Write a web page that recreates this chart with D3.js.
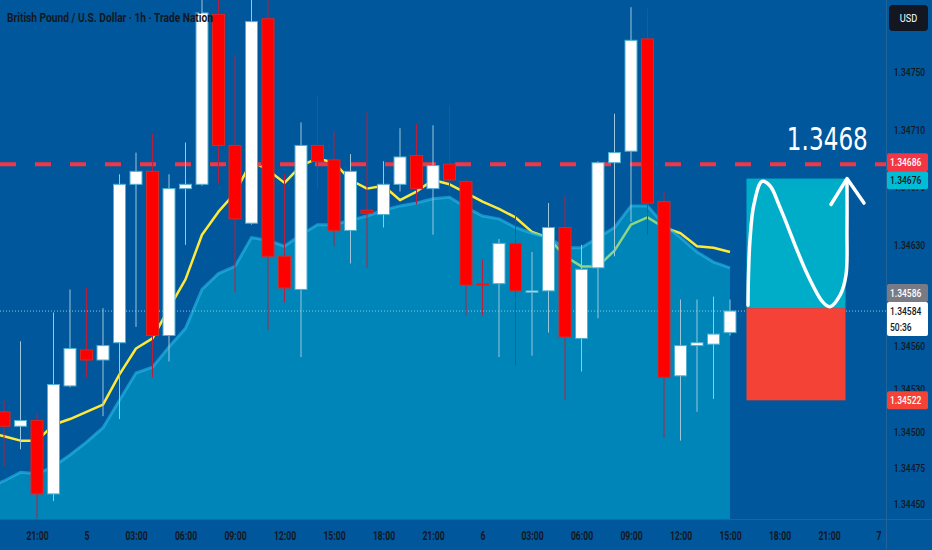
<!DOCTYPE html>
<html>
<head>
<meta charset="utf-8">
<script src="https://cdn.jsdelivr.net/npm/d3@7/dist/d3.min.js"></script>
<style>
html, body { margin:0; padding:0; background:#01579b; }
svg { display:block; }
</style>
</head>
<body>
<svg id="chart" width="932" height="550"></svg>
<script>
// GBP/USD 1h candles, first one is 19:00 on the 4th
var opens  = [1.34514,1.34504,1.34508,1.34457,1.34532,1.34557,1.34550,1.34562,1.34672,1.34681,1.34567,1.34669,1.34672,1.34790,1.34699,1.34645,1.34787,1.34622,1.34599,1.34699,1.34689,1.34640,1.34654,1.34651,1.34672,1.34692,1.34669,1.34686,1.34674,1.34603,1.34603,1.34631,1.34598,1.34598,1.34642,1.34565,1.34614,1.34687,1.34695,1.34773,1.34660,1.34539,1.34560,1.34561,1.34569];
var highs  = [1.34522,1.34563,1.34513,1.34583,1.34599,1.34600,1.34586,1.34679,1.34694,1.34707,1.34679,1.34701,1.34810,1.34814,1.34762,1.34807,1.34817,1.34679,1.34715,1.34734,1.34709,1.34693,1.34722,1.34688,1.34711,1.34714,1.34713,1.34727,1.34676,1.34620,1.34634,1.34654,1.34625,1.34659,1.34664,1.34630,1.34688,1.34721,1.34795,1.34794,1.34667,1.34592,1.34592,1.34594,1.34592];
var lows   = [1.34476,1.34488,1.34440,1.34452,1.34531,1.34538,1.34511,1.34509,1.34573,1.34538,1.34549,1.34630,1.34671,1.34673,1.34597,1.34644,1.34571,1.34590,1.34552,1.34669,1.34629,1.34617,1.34614,1.34642,1.34667,1.34658,1.34637,1.34666,1.34581,1.34581,1.34552,1.34546,1.34553,1.34569,1.34522,1.34542,1.34579,1.34622,1.34646,1.34637,1.34496,1.34494,1.34514,1.34523,1.34567];
var closes = [1.34504,1.34508,1.34457,1.34533,1.34558,1.34550,1.34560,1.34672,1.34681,1.34567,1.34669,1.34672,1.34791,1.34699,1.34648,1.34785,1.34622,1.34600,1.34699,1.34688,1.34640,1.34681,1.34652,1.34672,1.34691,1.34669,1.34685,1.34675,1.34602,1.34602,1.34631,1.34598,1.34598,1.34642,1.34566,1.34613,1.34687,1.34694,1.34772,1.34659,1.34538,1.34560,1.34562,1.34568,1.34584];

// moving averages, first value belongs to the candle just off the left edge (index -1)
var maFast = [1.34500,1.34497,1.34494,1.34494,1.34505,1.34509,1.34514,1.34519,1.34540,1.34558,1.34565,1.34586,1.34606,1.34637,1.34653,1.34666,1.34688,1.34682,1.34673,1.34685,1.34690,1.34687,1.34675,1.34669,1.34671,1.34661,1.34667,1.34675,1.34672,1.34666,1.34660,1.34655,1.34649,1.34639,1.34635,1.34622,1.34615,1.34615,1.34626,1.34644,1.34649,1.34642,1.34638,1.34629,1.34628,1.34625];
var maSlow = [1.34461,1.34466,1.34472,1.34471,1.34476,1.34484,1.34493,1.34503,1.34522,1.34541,1.34545,1.34559,1.34572,1.34599,1.34610,1.34615,1.34635,1.34633,1.34629,1.34637,1.34644,1.34644,1.34647,1.34650,1.34654,1.34657,1.34659,1.34662,1.34663,1.34656,1.34650,1.34648,1.34642,1.34638,1.34635,1.34628,1.34628,1.34635,1.34642,1.34657,1.34657,1.34644,1.34635,1.34625,1.34618,1.34614];

var priceTicks = [1.34750,1.34710,1.34670,1.34630,1.34560,1.34530,1.34500,1.34475,1.34450];
var timeTickIdx = [2,5,8,11,14,17,20,23,26,29,32,35,38,41,44,47,50,53];
var timeTickLabels = ["21:00","5","03:00","06:00","09:00","12:00","15:00","18:00","21:00","6","03:00","06:00","09:00","12:00","15:00","18:00","21:00","7"];

var levelPrice = 1.34686, levelText = "1.3468";
var targetPrice = 1.34676, entryPrice = 1.34586, stopPrice = 1.34522;
var lastPrice = 1.34584, countdown = "50:36";
var posStart = 45, posEnd = 51;

// hand drawn wave inside the position box: [candle index, price]
var sketchPts = [[45.09,1.34588],[45.12,1.34609],[45.21,1.34633],[45.45,1.34658],[45.94,1.34674],[46.42,1.34671],[47.03,1.34656],[48.67,1.34610],[49.64,1.34590],[50.06,1.34587],[50.67,1.34595],[51.03,1.34609],[51.09,1.34640],[51.09,1.34675]];
var arrowPts = [[50.12,1.34658],[51.09,1.34676],[52.12,1.34659]];

var W = 932, H = 550, plotW = 886, plotH = 519;
var svg = d3.select("#chart");

var x = d3.scaleLinear().domain([0, 44]).range([4, 730]);
var y = d3.scaleLinear().domain([1.34450, 1.34750]).range([504, 72]);

svg.append("rect").attr("width", W).attr("height", H).attr("fill", "#01579b");

svg.append("defs").append("clipPath").attr("id", "plotClip")
  .append("rect").attr("width", plotW).attr("height", plotH);

var plot = svg.append("g").attr("clip-path", "url(#plotClip)");

// yellow average (sits under the translucent area)
var lineFn = d3.line().x(function(d, i){ return x(i - 1); }).y(function(d){ return y(d); });
plot.append("path").datum(maFast)
  .attr("d", lineFn)
  .attr("fill", "none")
  .attr("stroke", "#ffe93b")
  .attr("stroke-width", 2.5)
  .attr("stroke-linejoin", "round");

var areaFn = d3.area().x(function(d, i){ return x(i - 1); }).y0(plotH).y1(function(d){ return y(d); });
plot.append("path").datum(maSlow)
  .attr("d", areaFn)
  .attr("fill", "rgba(0,191,222,0.45)");
plot.append("path").datum(maSlow)
  .attr("d", lineFn)
  .attr("fill", "none")
  .attr("stroke", "rgba(40,185,230,0.6)")
  .attr("stroke-width", 3);

// horizontal level + live price line
plot.append("line")
  .attr("x1", 0).attr("x2", plotW)
  .attr("y1", y(levelPrice)).attr("y2", y(levelPrice))
  .attr("stroke", "#f23645").attr("stroke-width", 4)
  .attr("stroke-dasharray", "16,19");
plot.append("line")
  .attr("x1", 0).attr("x2", plotW)
  .attr("y1", y(lastPrice)).attr("y2", y(lastPrice))
  .attr("stroke", "#8cc8e6").attr("stroke-width", 1)
  .attr("stroke-dasharray", "1,2");

// candles
var candles = opens.map(function(o, i){
  return {i: i, o: o, h: highs[i], l: lows[i], c: closes[i]};
});
var bw = 12;
var cg = plot.append("g").selectAll("g").data(candles).join("g");
cg.append("line")
  .attr("x1", function(d){ return x(d.i); })
  .attr("x2", function(d){ return x(d.i); })
  .attr("y1", function(d){ return y(d.h); })
  .attr("y2", function(d){ return y(d.l); })
  .attr("stroke", function(d){ return d.c >= d.o ? "#9cc6db" : "#b5203f"; })
  .attr("stroke-width", 1);
cg.append("rect")
  .attr("x", function(d){ return x(d.i) - bw / 2; })
  .attr("width", bw)
  .attr("y", function(d){ return y(Math.max(d.o, d.c)); })
  .attr("height", function(d){ return Math.max(1.5, Math.abs(y(d.o) - y(d.c))); })
  .attr("fill", function(d){ return d.c >= d.o ? "#ffffff" : "#ff0000"; })
  .attr("stroke", function(d){ return d.c >= d.o ? "#4fb0d2" : "#d42a2a"; })
  .attr("stroke-width", 1);

// long position tool
plot.append("rect")
  .attr("x", x(posStart)).attr("width", x(posEnd) - x(posStart))
  .attr("y", y(targetPrice)).attr("height", y(entryPrice) - y(targetPrice))
  .attr("fill", "#00adc9");
plot.append("rect")
  .attr("x", x(posStart)).attr("width", x(posEnd) - x(posStart))
  .attr("y", y(entryPrice)).attr("height", y(stopPrice) - y(entryPrice))
  .attr("fill", "#f44336");

var sketch = d3.line().x(function(d){ return x(d[0]); }).y(function(d){ return y(d[1]); });
plot.append("path").datum(sketchPts)
  .attr("d", sketch.curve(d3.curveCatmullRom.alpha(0.5)))
  .attr("fill", "none").attr("stroke", "#ffffff")
  .attr("stroke-width", 3.5).attr("stroke-linecap", "round");
plot.append("path").datum(arrowPts)
  .attr("d", d3.line().x(function(d){ return x(d[0]); }).y(function(d){ return y(d[1]); }))
  .attr("fill", "none").attr("stroke", "#ffffff")
  .attr("stroke-width", 3.5).attr("stroke-linecap", "round").attr("stroke-linejoin", "round");

plot.append("text")
  .attr("x", x(49.9)).attr("y", y(levelPrice) - 14)
  .attr("text-anchor", "middle")
  .attr("font-family", "DejaVu Sans, sans-serif")
  .attr("font-size", 31.5)
  .attr("fill", "#ffffff")
  .attr("textLength", 81).attr("lengthAdjust", "spacingAndGlyphs")
  .text(levelText);

svg.append("text")
  .attr("x", 7).attr("y", 22)
  .attr("font-family", "Roboto, sans-serif")
  .attr("font-weight", 700)
  .attr("font-size", 13)
  .attr("fill", "#131722")
  .attr("textLength", 206).attr("lengthAdjust", "spacingAndGlyphs")
  .text("British Pound / U.S. Dollar \u00b7 1h \u00b7 Trade Nation");

// separators
svg.append("line").attr("x1", plotW + 0.5).attr("x2", plotW + 0.5).attr("y1", 0).attr("y2", H)
  .attr("stroke", "#1f6398").attr("stroke-width", 1);
svg.append("line").attr("x1", 0).attr("x2", W).attr("y1", plotH + 0.5).attr("y2", plotH + 0.5)
  .attr("stroke", "#1f6398").attr("stroke-width", 1);

// axes
var xAxis = d3.axisBottom(x).tickValues(timeTickIdx)
  .tickFormat(function(d, i){ return timeTickLabels[i]; })
  .tickSize(0).tickPadding(12);
var gx = svg.append("g").attr("transform", "translate(0," + plotH + ")").call(xAxis);
gx.select(".domain").remove();
gx.selectAll("text")
  .attr("font-family", "Roboto, sans-serif").attr("font-weight", 700)
  .attr("font-size", 12).attr("fill", "#131722")
  .attr("transform", "scale(0.72,1)");

var yAxis = d3.axisRight(y).tickValues(priceTicks)
  .tickFormat(d3.format(".5f")).tickSize(0).tickPadding(10.5);
var gy = svg.append("g").attr("transform", "translate(" + plotW + ",0)").call(yAxis);
gy.select(".domain").remove();
gy.selectAll("text")
  .attr("font-family", "Roboto, sans-serif").attr("font-weight", 500)
  .attr("font-size", 11.5).attr("fill", "#131722")
  .attr("transform", "scale(0.74,1)");

// price labels on the scale
function axisTag(cy, lines, bg, fg) {
  var h = 18 + (lines.length - 1) * 16;
  var g = svg.append("g");
  g.append("rect")
    .attr("x", plotW + 1).attr("y", cy - 9).attr("width", 41).attr("height", h)
    .attr("rx", 2).attr("fill", bg);
  lines.forEach(function(t, k){
    g.append("text")
      .attr("transform", "translate(" + (plotW + 4) + "," + (cy + k * 16) + ") scale(0.74,1)")
      .attr("dy", "0.35em")
      .attr("font-family", "Roboto, sans-serif").attr("font-weight", 500)
      .attr("font-size", 11.5)
      .attr("fill", fg).text(t);
  });
}
var fmt = d3.format(".5f");
var yLevel = y(levelPrice), yTarget = y(targetPrice);
var gap = 18 - (yTarget - yLevel);
if (gap > 0) { yLevel -= gap / 2; yTarget += gap / 2; }
axisTag(yLevel, [fmt(levelPrice)], "#f23645", "#ffffff");
axisTag(yTarget, [fmt(targetPrice)], "#00bcd4", "#131722");
var yLast = y(lastPrice);
axisTag(Math.min(y(entryPrice), yLast - 18), [fmt(entryPrice)], "#787b86", "#ffffff");
axisTag(yLast, [fmt(lastPrice), countdown], "#ffffff", "#131722");
axisTag(y(stopPrice), [fmt(stopPrice)], "#f44336", "#ffffff");

// currency button
svg.append("rect").attr("x", 889).attr("y", 5).attr("width", 39).attr("height", 26)
  .attr("rx", 4).attr("fill", "#131722");
svg.append("text")
  .attr("transform", "translate(908.5,18) scale(0.8,1)")
  .attr("dy", "0.35em").attr("text-anchor", "middle")
  .attr("font-family", "Roboto, sans-serif").attr("font-size", 11.5)
  .attr("fill", "#ffffff").text("USD");
</script>
</body>
</html>
